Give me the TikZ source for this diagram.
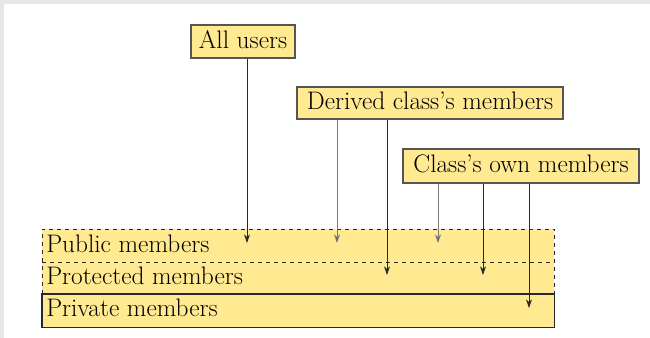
\documentclass[tikz,border=0pt]{standalone}
\usetikzlibrary{arrows.meta}
\definecolor{band}{RGB}{255,233,145}
\definecolor{outer}{RGB}{230,231,233}
\definecolor{boxline}{RGB}{85,85,85}
\definecolor{darkline}{RGB}{40,40,40}
\definecolor{greyline}{RGB}{120,120,120}
\tikzset{
  labelbox/.style={draw=boxline, line width=0.9pt, fill=band, inner sep=0pt, text height=13.5pt, text depth=3.5pt, font=\fontsize{19}{22}\selectfont},
  layer/.style={fill=band, draw=darkline, line width=0.7pt, inner sep=0pt, anchor=north west},
  layertext/.style={anchor=base west, inner sep=0pt, font=\fontsize{19}{22}\selectfont},
  arr/.style={draw=darkline, line width=0.7pt, -{Stealth[length=6.5pt,width=4.5pt]}},
  garr/.style={arr, draw=greyline, -{Stealth[length=6.5pt,width=4.5pt,fill=darkline]}},
}
\begin{document}
\begin{tikzpicture}[x=0.75pt,y=-0.75pt]
\useasboundingbox (0,0) rectangle (650,338);
\fill[outer] (0,0) rectangle (650,4);
\fill[outer] (0,0) rectangle (4,338);
% layers
\node[layer, minimum width=512*0.75pt, minimum height=98*0.75pt, draw=none] (all) at (42,229) {};
\draw[darkline, line width=0.7pt, dashed] (all.south west |- 0,294) -- (all.north west) -- (all.north east) -- (all.east |- 0,294);
\draw[darkline, line width=0.7pt, dashed] (all.west |- 0,262) -- (all.east |- 0,262);
\draw[darkline, line width=0.8pt] (all.west |- 0,294) -- (all.east |- 0,294) -- (all.south east) -- (all.south west) -- cycle;
\node[layertext] (pub) at (46,253) {Public members};
\node[layertext] (prot) at (46,285) {Protected members};
\node[layertext] (priv) at (46,317) {Private members};
% label boxes
\node[labelbox, minimum width=104*0.75pt, minimum height=33*0.75pt] (users) at (243,41.5) {All users};
\node[labelbox, minimum width=266*0.75pt, minimum height=32*0.75pt] (derived) at (430,103) {Derived class's members};
\node[labelbox, minimum width=236*0.75pt, minimum height=34*0.75pt] (own) at (521,166) {Class's own members};
% arrow ends
\coordinate (u1) at (247,243);
\coordinate (d1) at (337,243);
\coordinate (d2) at (387,275);
\coordinate (o1) at (438,243);
\coordinate (o2) at (483,275);
\coordinate (o3) at (529,308);
\draw[arr] (users.south -| u1) -- (u1);
\draw[garr] (derived.south -| d1) -- (d1);
\draw[arr] (derived.south -| d2) -- (d2);
\draw[garr] (own.south -| o1) -- (o1);
\draw[arr] (own.south -| o2) -- (o2);
\draw[arr] (own.south -| o3) -- (o3);
\end{tikzpicture}
\end{document}
